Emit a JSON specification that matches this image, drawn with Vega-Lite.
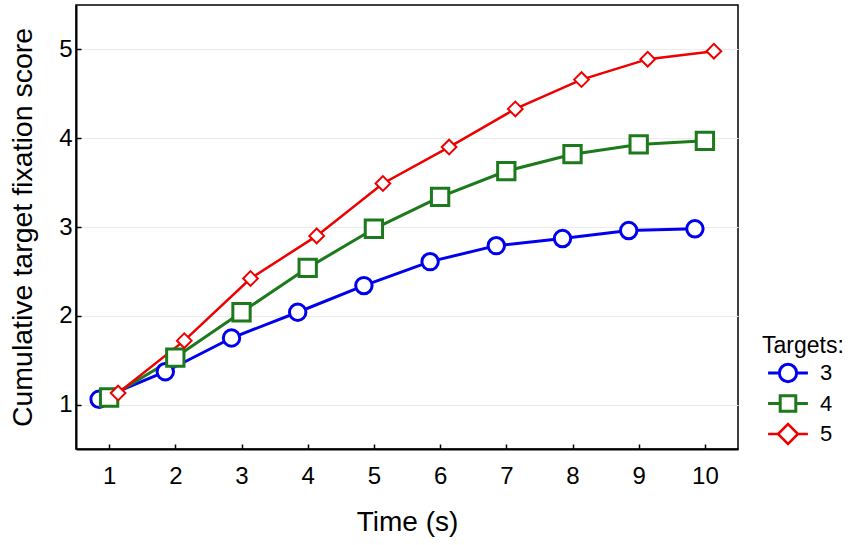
{
  "$schema": "https://vega.github.io/schema/vega-lite/v6.json",
  "autosize": "none",
  "padding": {"left": 76, "top": 5, "right": 112, "bottom": 96},
  "width": 662,
  "height": 444,
  "config": {
    "font": "Liberation Sans",
    "view": {"stroke": "black", "strokeWidth": 1.5}
  },
  "data": {
    "values": [
      {"time": 1, "score": 1.06, "targets": "3"},
      {"time": 2, "score": 1.37, "targets": "3"},
      {"time": 3, "score": 1.75, "targets": "3"},
      {"time": 4, "score": 2.04, "targets": "3"},
      {"time": 5, "score": 2.34, "targets": "3"},
      {"time": 6, "score": 2.61, "targets": "3"},
      {"time": 7, "score": 2.79, "targets": "3"},
      {"time": 8, "score": 2.87, "targets": "3"},
      {"time": 9, "score": 2.96, "targets": "3"},
      {"time": 10, "score": 2.98, "targets": "3"},
      {"time": 1, "score": 1.08, "targets": "4"},
      {"time": 2, "score": 1.53, "targets": "4"},
      {"time": 3, "score": 2.04, "targets": "4"},
      {"time": 4, "score": 2.54, "targets": "4"},
      {"time": 5, "score": 2.98, "targets": "4"},
      {"time": 6, "score": 3.34, "targets": "4"},
      {"time": 7, "score": 3.63, "targets": "4"},
      {"time": 8, "score": 3.82, "targets": "4"},
      {"time": 9, "score": 3.93, "targets": "4"},
      {"time": 10, "score": 3.97, "targets": "4"},
      {"time": 1, "score": 1.13, "targets": "5"},
      {"time": 2, "score": 1.72, "targets": "5"},
      {"time": 3, "score": 2.42, "targets": "5"},
      {"time": 4, "score": 2.90, "targets": "5"},
      {"time": 5, "score": 3.49, "targets": "5"},
      {"time": 6, "score": 3.90, "targets": "5"},
      {"time": 7, "score": 4.33, "targets": "5"},
      {"time": 8, "score": 4.66, "targets": "5"},
      {"time": 9, "score": 4.89, "targets": "5"},
      {"time": 10, "score": 4.98, "targets": "5"}
    ]
  },
  "encoding": {
    "x": {
      "field": "time",
      "type": "quantitative",
      "title": "Time (s)",
      "scale": {"domain": [0.5, 10.5], "nice": false, "zero": false},
      "axis": {
        "values": [1, 2, 3, 4, 5, 6, 7, 8, 9, 10],
        "grid": false,
        "labelFontSize": 24,
        "titleFontSize": 28,
        "titleFontWeight": "normal",
        "labelColor": "black",
        "titleColor": "black",
        "domainColor": "black",
        "domainWidth": 2,
        "tickColor": "black",
        "tickWidth": 1.5,
        "tickSize": -5,
        "labelPadding": 20,
        "titlePadding": 20
      }
    },
    "y": {
      "field": "score",
      "type": "quantitative",
      "title": "Cumulative target fixation score",
      "scale": {"domain": [0.5, 5.5], "nice": false, "zero": false},
      "axis": {
        "values": [1, 2, 3, 4, 5],
        "grid": true,
        "gridColor": "#ebebeb",
        "labelFontSize": 24,
        "titleFontSize": 28.5,
        "titleFontWeight": "normal",
        "labelColor": "black",
        "titleColor": "black",
        "domainColor": "black",
        "domainWidth": 2,
        "tickColor": "black",
        "tickWidth": 1.5,
        "tickSize": -5,
        "labelPadding": 9,
        "titlePadding": 21
      }
    }
  },
  "layer": [
    {
      "transform": [{"filter": "datum.targets == '3'"}],
      "mark": {"type": "line", "strokeWidth": 3, "xOffset": -10},
      "encoding": {
        "color": {
          "field": "targets",
          "type": "nominal",
          "scale": {"domain": ["3", "4", "5"], "range": ["#0000ee", "#1c7a1c", "#ee0000"]},
          "legend": {
            "title": "Targets:",
            "orient": "none",
            "legendX": 686,
            "legendY": 330,
            "symbolType": "M-2.3,0H2.3",
            "symbolSize": 300,
            "symbolStrokeWidth": 3,
            "symbolFillColor": "white",
            "symbolOffset": 15,
            "labelOffset": 21,
            "rowPadding": 1.5,
            "titlePadding": 4,
            "titleFontSize": 23,
            "labelFontSize": 22,
            "titleFontWeight": "normal",
            "titleColor": "black",
            "labelColor": "black",
            "encode": {
              "symbols": {
                "update": {
                  "shape": {"signal": "datum.value == '3' ? 'M-2.3,0H-1M1,0H2.3M1,0A1,1,0,1,1,-1,0A1,1,0,1,1,1,0Z' : datum.value == '4' ? 'M-2.3,0H-0.9M0.9,0H2.3M-0.9,-0.9H0.9V0.9H-0.9Z' : 'M-2.3,0H-1.15M1.15,0H2.3M-1.15,0L0,-1.15L1.15,0L0,1.15Z'"},
                  "fill": {"value": "white"},
                  "strokeWidth": {"signal": "datum.value == '5' ? 2.5 : 3"}
                }
              }
            }
          }
        }
      }
    },
    {
      "transform": [{"filter": "datum.targets == '4'"}],
      "mark": {"type": "line", "strokeWidth": 3, "xOffset": 0},
      "encoding": {"color": {"field": "targets", "type": "nominal"}}
    },
    {
      "transform": [{"filter": "datum.targets == '5'"}],
      "mark": {"type": "line", "strokeWidth": 2.5, "xOffset": 9},
      "encoding": {"color": {"field": "targets", "type": "nominal"}}
    },
    {
      "transform": [{"filter": "datum.targets == '3'"}],
      "mark": {"type": "point", "shape": "circle", "filled": true, "fill": "white", "stroke": "#0000ee", "strokeWidth": 3, "size": 270, "opacity": 1, "xOffset": -10},
      "encoding": {}
    },
    {
      "transform": [{"filter": "datum.targets == '4'"}],
      "mark": {"type": "point", "shape": "square", "filled": true, "fill": "white", "stroke": "#1c7a1c", "strokeWidth": 3, "size": 300, "opacity": 1, "xOffset": 0},
      "encoding": {}
    },
    {
      "transform": [{"filter": "datum.targets == '5'"}],
      "mark": {"type": "point", "shape": "diamond", "filled": true, "fill": "white", "stroke": "#ee0000", "strokeWidth": 2, "size": 216, "opacity": 1, "xOffset": 9},
      "encoding": {}
    }
  ]
}
